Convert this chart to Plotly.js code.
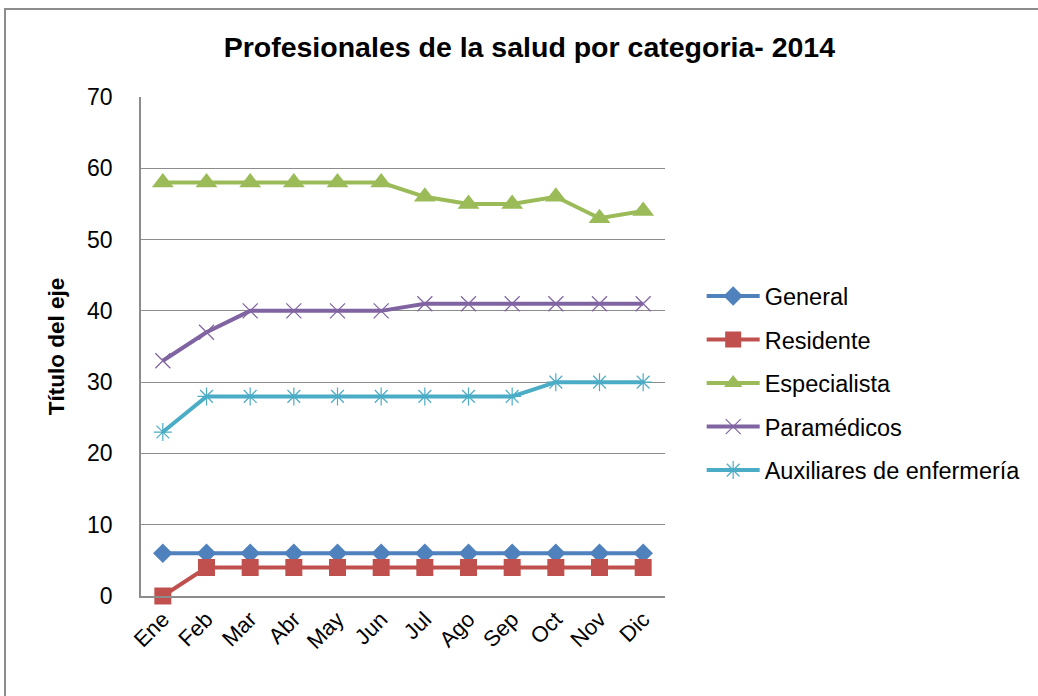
<!DOCTYPE html>
<html>
<head>
<meta charset="utf-8">
<script src="https://cdn.plot.ly/plotly-3.0.1.min.js"></script>
<style>
  body { margin: 0; background: #fff; }
  #grafico { width: 1038px; height: 696px; }
</style>
</head>
<body>
<div id="grafico"></div>
<script>
// ---- datos ----
let meses = ['Ene', 'Feb', 'Mar', 'Abr', 'May', 'Jun', 'Jul', 'Ago', 'Sep', 'Oct', 'Nov', 'Dic'];
let general = [6, 6, 6, 6, 6, 6, 6, 6, 6, 6, 6, 6];
let residente = [0, 4, 4, 4, 4, 4, 4, 4, 4, 4, 4, 4];
let especialista = [58, 58, 58, 58, 58, 58, 56, 55, 55, 56, 53, 54];
let paramedicos = [33, 37, 40, 40, 40, 40, 41, 41, 41, 41, 41, 41];
let auxiliares = [23, 28, 28, 28, 28, 28, 28, 28, 28, 30, 30, 30];

function serie(nombre, y, color, simbolo, tam, ancho){
    return {
        x: meses, y: y, name: nombre, type: 'scatter', mode: 'lines+markers',
        legendgroup: nombre,
        line: {color: color, width: 4},
        marker: {symbol: simbolo, size: tam, color: color, line: {color: color, width: ancho}},
        cliponaxis: false
    };
}

let trazas = [
    serie('General', general, '#4F81BD', 'diamond', 15, 0),
    serie('Residente', residente, '#C0504D', 'square', 17, 0),
    serie('Especialista', especialista, '#9BBB59', 'triangle-up', 19, 0),
    serie('Paramédicos', paramedicos, '#8064A2', 'x-thin-open', 15, 1.2),
    serie('Auxiliares de enfermería', auxiliares, '#4BACC6', 'asterisk-open', 15, 1.2)
];

let layout = {
    width: 1038, height: 696,
    margin: {l: 141, r: 373, t: 97, b: 100},
    paper_bgcolor: '#fff', plot_bgcolor: '#fff',
    font: {family: 'Liberation Sans, Arial, sans-serif', size: 22, color: '#000'},
    title: {text: '<b>Profesionales de la salud por categoria- 2014</b>', x: 0.51, xanchor: 'center', y: 0.932, yanchor: 'middle', font: {size: 28.5}},
    showlegend: true,
    legend: {x: 1.07, xanchor: 'left', y: 0.645, yanchor: 'top', traceorder: 'grouped', tracegroupgap: 10, font: {size: 23.5}, itemwidth: 53},
    xaxis: {
        range: [-0.5, 11.5], tickangle: -45, showgrid: false,
        showline: true, linecolor: '#8c8c8c', linewidth: 1.5,
        ticks: '', tickfont: {size: 22}, zeroline: false
    },
    yaxis: {
        range: [0, 70], dtick: 10, showgrid: true, gridcolor: '#8c8c8c', gridwidth: 1.2,
        showline: true, linecolor: '#8c8c8c', linewidth: 1.5, zeroline: false,
        ticks: '', ticklabelstandoff: 22, tickfont: {size: 23},
        title: {text: '<b>Título del eje</b>', font: {size: 22.5}, standoff: 16}
    },
    shapes: [
        {type: 'rect', xref: 'paper', yref: 'paper', x0: -0.2595, x1: 1.8, y0: -0.3, y1: 1.1764,
         line: {color: '#8c8c8c', width: 2}, fillcolor: 'rgba(0,0,0,0)', layer: 'below'}
    ]
};

Plotly.newPlot('grafico', trazas, layout, {displayModeBar: false});
</script>
</body>
</html>
